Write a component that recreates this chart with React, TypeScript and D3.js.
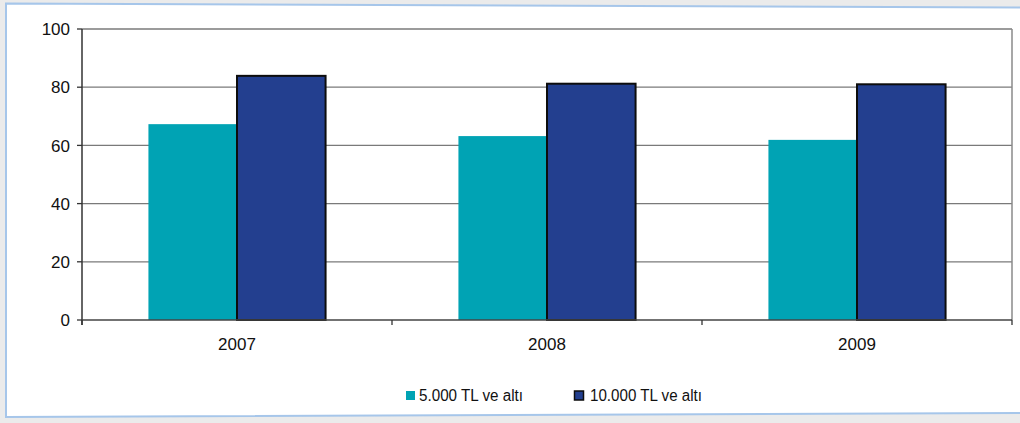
import React from "react";
import * as d3 from "d3";

// Share of accounts by deposit size, per year
const years = ["2007", "2008", "2009"];
const seriesNames = ["5.000 TL ve altı", "10.000 TL ve altı"];
const under5000 = [67.3, 63.2, 61.9];
const under10000 = [83.9, 81.2, 81.0];
const yTicks = [0, 20, 40, 60, 80, 100];

const W = 1020;
const H = 423;
const FONT = "'Liberation Sans', Arial, sans-serif";

const fills = ["#00a3b4", "#233f8f"];

export default function App() {
  const left = 82;
  const right = 1012;
  const top = 29;
  const bottom = 320;

  const x0 = d3.scaleBand<string>().domain(years).range([left, right]).padding(0);
  const x1 = d3
    .scaleBand<string>()
    .domain(seriesNames)
    .range([0, x0.step()])
    .paddingInner(0)
    .paddingOuter(0.75);
  const y = d3.scaleLinear().domain([0, 100]).range([bottom, top]);

  const seriesValues = [under5000, under10000];
  const boundaries = [...years.map((d) => x0(d)!), right];

  return (
    <svg
      width={W}
      height={H}
      style={{ position: "absolute", left: 0, top: 0, background: "#ebebeb" }}
    >
      {/* framed panel */}
      <polygon
        points={`6,3.5 ${W + 2},7.5 ${W + 2},413 6,417`}
        fill="#ffffff"
        stroke="#a6c6ea"
        strokeWidth={2}
      />

      {/* horizontal gridlines */}
      {yTicks.slice(1).map((t) => (
        <line
          key={t}
          x1={left}
          x2={right}
          y1={y(t)}
          y2={y(t)}
          stroke="#7a7a7a"
          strokeWidth={1.3}
        />
      ))}
      {/* plot area right edge */}
      <line x1={right} x2={right} y1={top} y2={bottom} stroke="#8a8a8a" strokeWidth={1.5} />

      {/* bars */}
      {years.map((yr, i) => (
        <g key={yr} transform={`translate(${x0(yr)},0)`}>
          {seriesNames.map((s, j) => {
            const v = seriesValues[j][i];
            return (
              <rect
                key={s}
                x={x1(s)!}
                y={y(v)}
                width={x1.bandwidth()}
                height={y(0) - y(v)}
                fill={fills[j]}
                stroke={j === 1 ? "#0d0d0d" : "none"}
                strokeWidth={j === 1 ? 2 : 0}
              />
            );
          })}
        </g>
      ))}

      {/* y axis */}
      <line x1={left} x2={left} y1={top} y2={bottom + 5} stroke="#333" strokeWidth={1.5} />
      {yTicks.map((t) => (
        <g key={t}>
          <line x1={left - 5} x2={left} y1={y(t)} y2={y(t)} stroke="#333" strokeWidth={1.3} />
          <text
            x={70}
            y={y(t)}
            dy="0.36em"
            textAnchor="end"
            fontFamily={FONT}
            fontSize={17}
            fill="#111"
          >
            {t}
          </text>
        </g>
      ))}

      {/* x axis */}
      <line x1={left} x2={right} y1={bottom} y2={bottom} stroke="#444" strokeWidth={1.5} />
      {boundaries.map((bx, i) => (
        <line key={i} x1={bx} x2={bx} y1={bottom} y2={bottom + 5} stroke="#333" strokeWidth={1.3} />
      ))}
      {years.map((yr) => (
        <text
          key={yr}
          x={x0(yr)! + x0.bandwidth() / 2}
          y={350}
          textAnchor="middle"
          fontFamily={FONT}
          fontSize={17}
          fill="#111"
        >
          {yr}
        </text>
      ))}

      {/* legend */}
      <rect x={406} y={391} width={9} height={9} fill={fills[0]} />
      <text
        x={419}
        y={401}
        fontFamily={FONT}
        fontSize={16}
        fill="#111"
        textLength={104}
        lengthAdjust="spacingAndGlyphs"
      >
        {seriesNames[0]}
      </text>
      <rect
        x={574.5}
        y={391}
        width={9}
        height={9}
        fill={fills[1]}
        stroke="#0d0d0d"
        strokeWidth={1.5}
      />
      <text
        x={590}
        y={401}
        fontFamily={FONT}
        fontSize={16}
        fill="#111"
        textLength={112}
        lengthAdjust="spacingAndGlyphs"
      >
        {seriesNames[1]}
      </text>
    </svg>
  );
}
